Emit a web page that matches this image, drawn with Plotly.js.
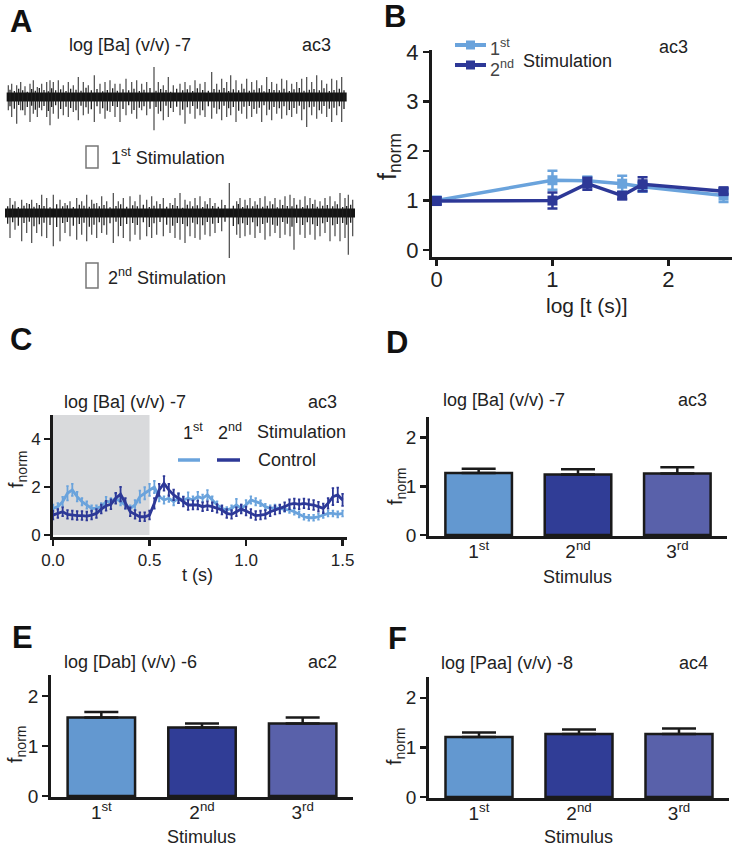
<!DOCTYPE html>
<html>
<head>
<meta charset="utf-8">
<script src="https://cdn.plot.ly/plotly-3.0.1.min.js"></script>
<style>html,body{margin:0;padding:0;background:#fff;}#chart{width:738px;height:848px;}</style>
</head>
<body>
<div id="chart"></div>
<script>
// ---------------- DATA ----------------
// Panel A: spike times (recording units) and amplitudes (arbitrary units)
const a1_time = [2.5,3.5,5.0,6.2,7.5,9.0,10.0,11.2,12.5,14.0,15.0,16.0,17.5,19.0,20.5,22.0,23.5,25.0,26.5,28.3,30.0,31.5,33.0,34.5,36.0,37.8,39.5,41.0,42.5,44.0,46.2,47.5,49.0,50.5,52.0,54.0,55.5,57.0,58.5,60.0,61.5,63.5,65.0,66.5,68.0,69.2,70.8,72.5,74.0,75.5,77.0,78.5,80.0,81.5,83.0,84.5,86.0,87.5,89.0,90.5,92.0,93.5,95.0,96.5,98.0,99.5,101.0,102.5];
const a1_up   = [35,40,35,45,32,40,50,30,40,45,50,45,50,35,45,35,60,45,35,65,40,45,50,40,40,55,45,50,40,45,90,45,35,60,35,40,45,35,50,40,45,75,40,55,45,65,50,40,55,45,50,35,60,45,40,55,50,40,45,55,60,45,65,50,40,55,50,60];
const a1_down = [40,60,80,40,55,75,50,60,40,60,85,50,65,55,60,45,70,55,50,75,50,65,45,60,75,55,50,65,40,55,100,50,70,60,45,55,80,50,65,55,60,65,50,70,60,55,75,50,65,60,50,75,55,70,50,65,55,60,50,70,90,55,65,50,60,75,55,75];
const a1_small_time = [3.0,4.3,5.6,6.8,8.2,9.5,10.6,11.8,13.2,14.5,15.5,16.7,18.2,19.8,21.2,22.8,24.3,25.8,27.4,29.1,30.8,32.2,33.8,35.2,36.9,38.6,40.2,41.8,43.2,45.0,46.8,48.2,49.8,51.2,53.0,54.8,56.2,57.8,59.2,60.8,62.5,64.2,65.8,67.2,68.6,70.0,71.6,73.2,74.8,76.2,77.8,79.2,80.8,82.2,83.8,85.2,86.8,88.2,89.8,91.2,92.8,94.2,95.8,97.2,98.8,100.2,101.8,103.2];
const a1_small_up   = [22,18,25,20,16,24,19,27,21,17,26,20,23,18,25,22,19,28,20,24,17,21,26,19,23,20,25,18,22,27,19,24,21,16,25,20,23,18,26,21,19,24,22,27,18,23,20,25,19,22,26,17,24,21,20,25,18,23,27,19,22,24,20,26,18,21,25,20];
const a1_small_down = [28,35,24,40,30,26,38,32,27,42,30,25,36,29,33,40,26,31,37,28,34,41,27,30,36,25,39,32,28,35,30,43,26,33,29,38,31,27,35,40,28,32,37,26,34,30,41,29,27,36,32,25,38,30,34,28,39,33,26,37,31,29,40,27,35,32,28,36];
const a1_span = [2.0,104.0];

const a2_time = [3.0,4.5,6.5,8.0,9.5,11.0,12.5,14.0,16.0,18.0,19.5,21.0,23.0,24.5,26.0,27.5,29.0,30.5,32.0,34.0,35.5,37.0,39.0,40.5,42.0,44.0,45.5,47.0,49.0,51.0,52.5,54.0,55.5,57.0,58.5,60.0,61.5,63.0,64.5,66.5,68.8,71.0,72.0,73.5,75.0,76.5,78.0,79.5,81.0,82.5,84.0,85.5,87.0,88.2,90.0,91.5,93.0,94.5,96.0,97.5,99.0,100.5,102.0,103.5,104.5,105.8];
const a2_up   = [45,35,40,30,40,30,55,45,55,40,30,35,45,35,55,40,30,50,35,60,35,45,50,35,55,40,50,35,45,30,45,60,40,35,45,50,35,45,30,40,90,35,45,40,45,35,45,50,35,45,40,50,55,45,40,50,45,40,35,45,50,35,60,45,55,40];
const a2_down = [75,50,85,60,90,60,70,75,100,85,60,70,80,65,85,65,75,60,65,90,70,75,85,65,80,70,75,65,70,60,75,80,90,70,75,80,65,70,60,55,135,65,75,70,65,75,60,80,70,60,75,65,70,110,65,75,65,80,70,60,85,70,85,75,125,70];
const a2_small_time = [2.3,3.8,5.5,7.2,8.8,10.2,11.8,13.2,15.0,17.0,18.8,20.2,22.0,23.8,25.2,26.8,28.2,29.8,31.2,33.0,34.8,36.2,38.0,39.8,41.2,43.0,44.8,46.2,48.0,50.0,51.8,53.2,54.8,56.2,57.8,59.2,60.8,62.2,63.8,65.5,67.5,70.0,71.5,72.8,74.2,75.8,77.2,78.8,80.2,81.8,83.2,84.8,86.2,87.6,89.0,90.8,92.2,93.8,95.2,96.8,98.2,99.8,101.2,102.8,104.0,105.2];
const a2_small_up   = [20,25,18,22,27,19,24,21,17,26,20,23,18,25,22,19,28,20,24,17,21,26,19,23,20,25,18,22,27,19,24,21,16,25,20,23,18,26,21,19,24,22,27,18,23,20,25,19,22,26,17,24,21,20,25,18,23,27,19,22,24,20,26,18,21,25];
const a2_small_down = [32,28,38,30,26,40,34,29,36,42,30,27,38,33,29,41,35,28,37,31,26,39,33,30,36,28,42,31,27,35,38,30,33,40,29,34,37,27,32,30,26,39,34,31,36,28,40,33,29,35,38,27,32,41,30,36,28,34,39,31,27,37,33,30,35,29];
const a2_span = [1.5,106.5];

// Panel B: log time vs normalised frequency
const b_logt   = [0, 1, 1.301, 1.602, 1.778, 2.477];
const b_first  = [1.00, 1.41, 1.40, 1.34, 1.28, 1.10];
const b_first_err  = [0.07, 0.19, 0.08, 0.16, 0.10, 0.13];
const b_second = [0.99, 1.00, 1.34, 1.10, 1.33, 1.19];
const b_second_err = [0.07, 0.16, 0.12, 0.07, 0.14, 0.06];

// Panel C: time course (s) vs normalised frequency
const c_time = [0,0.025,0.05,0.075,0.1,0.125,0.15,0.175,0.2,0.225,0.25,0.275,0.3,0.325,0.35,0.375,0.4,0.425,0.45,0.475,0.5,0.525,0.55,0.575,0.6,0.625,0.65,0.675,0.7,0.725,0.75,0.775,0.8,0.825,0.85,0.875,0.9,0.925,0.95,0.975,1.0,1.025,1.05,1.075,1.1,1.125,1.15,1.175,1.2,1.225,1.25,1.275,1.3,1.325,1.35,1.375,1.4,1.425,1.45,1.475,1.5];
const c_first  = [1.11,1.18,1.39,1.74,1.88,1.60,1.39,1.25,1.11,1.11,1.18,1.39,1.39,1.53,1.39,1.25,1.11,1.25,1.60,1.74,1.88,2.00,1.60,1.46,1.53,1.39,1.53,1.46,1.53,1.46,1.60,1.53,1.67,1.46,1.25,1.11,1.04,1.11,1.25,1.11,1.25,1.46,1.39,1.32,1.18,1.11,1.14,1.11,1.08,1.04,0.97,0.86,0.76,0.72,0.72,0.76,0.83,0.90,0.90,0.86,0.90];
const c_first_err = [0.15,0.15,0.2,0.3,0.25,0.2,0.15,0.15,0.12,0.12,0.15,0.2,0.15,0.2,0.15,0.15,0.12,0.2,0.25,0.25,0.25,0.25,0.2,0.15,0.15,0.15,0.2,0.15,0.25,0.15,0.2,0.15,0.2,0.15,0.15,0.12,0.12,0.12,0.25,0.15,0.2,0.15,0.15,0.12,0.12,0.12,0.12,0.12,0.12,0.12,0.12,0.12,0.12,0.12,0.12,0.12,0.12,0.12,0.12,0.12,0.12];
const c_second = [0.83,0.90,0.97,0.86,0.83,0.81,0.81,0.79,0.83,0.90,1.08,1.22,1.28,1.53,1.70,1.32,0.97,0.86,0.76,0.76,0.83,1.32,1.88,2.15,1.88,1.67,1.53,1.39,1.25,1.25,1.25,1.18,1.22,1.18,1.11,1.04,0.90,0.86,0.97,1.08,1.00,0.90,0.81,0.83,0.86,0.97,1.04,1.08,1.18,1.28,1.32,1.28,1.32,1.28,1.25,1.18,1.11,1.32,1.60,1.67,1.46];
const c_second_err = [0.18,0.18,0.18,0.18,0.18,0.18,0.18,0.18,0.18,0.18,0.18,0.2,0.2,0.22,0.3,0.22,0.18,0.18,0.18,0.18,0.18,0.22,0.25,0.3,0.25,0.22,0.2,0.2,0.2,0.18,0.18,0.18,0.18,0.18,0.18,0.18,0.18,0.18,0.18,0.18,0.18,0.18,0.18,0.18,0.18,0.18,0.18,0.18,0.18,0.2,0.2,0.2,0.2,0.2,0.2,0.2,0.2,0.22,0.35,0.3,0.25];

// Panels D, E, F: stimulus bars
const stim_labels = ['1<sup>st</sup>','2<sup>nd</sup>','3<sup>rd</sup>'];
const stim_pos = [0,1,2];
const d_vals = [1.27, 1.24, 1.26];
const d_err  = [0.09, 0.11, 0.13];
const e_vals = [1.57, 1.37, 1.45];
const e_err  = [0.11, 0.08, 0.12];
const f_vals = [1.21, 1.27, 1.27];
const f_err  = [0.09, 0.09, 0.11];

// ---------------- STYLE ----------------
const W = 738, H = 848;
const FONT = 'Liberation Sans, Arial, Helvetica, sans-serif';
const INK = '#1a1a1a';
const LIGHT = '#6aa3dc', DARK = '#2d3897';
const BAR_COLORS = ['#6398d0', '#303d96', '#5961aa'];
const fx = p => p / W;
const fy = p => 1 - p / H;

function spikeSegments(t, up, down, base) {
  const xs = [], ys = [];
  const n = Math.min(t.length, up.length, down.length);
  for (let i = 0; i < n; i++) {
    xs.push(t[i], t[i], null);
    ys.push(base + up[i], base - down[i], null);
  }
  return {xs, ys};
}

const traces = [];
// Panel A traces
const base1 = 609, base2 = 261;
[[a1_time, a1_up, a1_down, a1_small_time, a1_small_up, a1_small_down, a1_span, base1],
 [a2_time, a2_up, a2_down, a2_small_time, a2_small_up, a2_small_down, a2_span, base2]].forEach(([t, u, d, st, su, sd, span, b]) => {
  const s = spikeSegments(t, u, d, b);
  traces.push({x: s.xs, y: s.ys, xaxis: 'x', yaxis: 'y', mode: 'lines',
    line: {color: '#555555', width: 1.3}, connectgaps: false, showlegend: false, hoverinfo: 'skip'});
  traces.push({x: span, y: [b, b], xaxis: 'x', yaxis: 'y', mode: 'lines',
    line: {color: '#141414', width: 9}, showlegend: false, hoverinfo: 'skip'});
  const ss = spikeSegments(st, su, sd, b);
  traces.push({x: ss.xs, y: ss.ys, xaxis: 'x', yaxis: 'y', mode: 'lines',
    line: {color: '#1e1e1e', width: 1.3}, connectgaps: false, showlegend: false, hoverinfo: 'skip'});
});

// Panel B
traces.push({x: b_logt, y: b_first, xaxis: 'x2', yaxis: 'y2', mode: 'lines+markers', name: '1st', showlegend: false,
  line: {color: LIGHT, width: 3.5}, marker: {symbol: 'square', size: 10, color: LIGHT},
  error_y: {type: 'data', array: b_first_err, visible: true, color: LIGHT, thickness: 2.5, width: 5}});
traces.push({x: b_logt, y: b_second, xaxis: 'x2', yaxis: 'y2', mode: 'lines+markers', name: '2nd', showlegend: false,
  line: {color: DARK, width: 3.5}, marker: {symbol: 'square', size: 10, color: DARK},
  error_y: {type: 'data', array: b_second_err, visible: true, color: DARK, thickness: 2.5, width: 5}});

// Panel C
traces.push({x: c_time, y: c_first, xaxis: 'x3', yaxis: 'y3', mode: 'lines', showlegend: false,
  line: {color: LIGHT, width: 2.8},
  error_y: {type: 'data', array: c_first_err, visible: true, color: LIGHT, thickness: 1.8, width: 1.2}});
traces.push({x: c_time, y: c_second, xaxis: 'x3', yaxis: 'y3', mode: 'lines', showlegend: false,
  line: {color: DARK, width: 2.8},
  error_y: {type: 'data', array: c_second_err, visible: true, color: DARK, thickness: 1.8, width: 1.2}});

// Panels D, E, F
[[d_vals, d_err, 'x4', 'y4'], [e_vals, e_err, 'x5', 'y5'], [f_vals, f_err, 'x6', 'y6']].forEach(([v, e, xa, ya]) => {
  traces.push({type: 'bar', x: stim_pos, y: v, xaxis: xa, yaxis: ya, width: 0.67, showlegend: false,
    marker: {color: BAR_COLORS, line: {color: INK, width: 2.5}},
    error_y: {type: 'data', symmetric: false, array: e, arrayminus: e.map(() => 0), visible: true,
      color: INK, thickness: 2.5, width: 17}});
});

// ---------------- LAYOUT ----------------
const axisBase = {showline: true, linewidth: 2.8, linecolor: INK, ticks: 'outside', ticklen: 6, tickwidth: 2.5,
  tickcolor: INK, showgrid: false, zeroline: false, tickfont: {family: FONT, size: 19, color: '#222'}, fixedrange: true};
const hidden = {visible: false, fixedrange: true, showgrid: false, zeroline: false};
const f = (size) => ({family: FONT, size: size, color: '#222'});

const barX = (d0, d1) => Object.assign({}, axisBase, {domain: [fx(d0), fx(d1)], range: [-0.5, 2.5],
  tickvals: stim_pos, ticktext: stim_labels, ticks: '', ticklabelstandoff: -4, tickfont: f(19)});
const barY = (top, bot, anchor) => Object.assign({}, axisBase, {domain: [fy(bot), fy(top)], range: [-0.02, 2.42],
  tickvals: [0, 1, 2], anchor: anchor, tickfont: f(19)});

const layout = {
  width: W, height: H, margin: {l: 0, r: 0, t: 0, b: 0},
  paper_bgcolor: '#fff', plot_bgcolor: 'rgba(0,0,0,0)',
  font: {family: FONT, size: 18, color: '#222'},
  showlegend: false,
  xaxis: Object.assign({}, hidden, {domain: [0, fx(370)], range: [0, 111]}),
  yaxis: Object.assign({}, hidden, {domain: [fy(300), 1], range: [0, 900]}),
  xaxis2: Object.assign({}, axisBase, {domain: [fx(432), fx(732)], range: [-0.04, 2.55], tickvals: [0, 1, 2],
    anchor: 'y2', tickfont: f(22), linewidth: 3.2, ticklabelstandoff: -6}),
  yaxis2: Object.assign({}, axisBase, {domain: [fy(257), fy(50)], range: [-0.14, 4.04], tickvals: [0, 1, 2, 3, 4],
    anchor: 'x2', tickfont: f(22), linewidth: 3.2}),
  xaxis3: Object.assign({}, axisBase, {domain: [fx(53), fx(347)], range: [0, 1.523], tickvals: [0, 0.5, 1, 1.5],
    tickformat: '.1f', anchor: 'y3', tickfont: f(17)}),
  yaxis3: Object.assign({}, axisBase, {domain: [fy(537), fy(415)], range: [-0.083, 5.0], tickvals: [0, 2, 4],
    anchor: 'x3', tickfont: f(17)}),
  xaxis4: Object.assign(barX(429, 727), {anchor: 'y4'}),
  yaxis4: barY(417, 536, 'x4'),
  xaxis5: Object.assign(barX(51, 353), {anchor: 'y5'}),
  yaxis5: barY(675, 797, 'x5'),
  xaxis6: Object.assign(barX(429, 729), {anchor: 'y6'}),
  yaxis6: barY(677, 798, 'x6'),
  shapes: [
    // Panel A stimulus boxes
    {type: 'rect', xref: 'paper', yref: 'paper', x0: fx(86), x1: fx(98), y0: fy(168), y1: fy(146),
      line: {color: '#777', width: 1.5}, fillcolor: 'rgba(0,0,0,0)'},
    {type: 'rect', xref: 'paper', yref: 'paper', x0: fx(86), x1: fx(98), y0: fy(288), y1: fy(263),
      line: {color: '#777', width: 1.5}, fillcolor: 'rgba(0,0,0,0)'},
    // Panel B legend samples
    {type: 'line', xref: 'paper', yref: 'paper', x0: fx(455), x1: fx(486), y0: fy(45), y1: fy(45),
      line: {color: LIGHT, width: 4}},
    {type: 'rect', xref: 'paper', yref: 'paper', x0: fx(466), x1: fx(475), y0: fy(49.5), y1: fy(40.5),
      line: {width: 0}, fillcolor: LIGHT},
    {type: 'line', xref: 'paper', yref: 'paper', x0: fx(455), x1: fx(486), y0: fy(65), y1: fy(65),
      line: {color: DARK, width: 4}},
    {type: 'rect', xref: 'paper', yref: 'paper', x0: fx(466), x1: fx(475), y0: fy(69.5), y1: fy(60.5),
      line: {width: 0}, fillcolor: DARK},
    // Panel C stimulation window
    {type: 'rect', xref: 'x3', yref: 'y3', x0: 0, x1: 0.5, y0: 0, y1: 5.0, layer: 'below',
      line: {width: 0}, fillcolor: '#d9dadc'},
    // Panel C legend dashes
    {type: 'line', xref: 'paper', yref: 'paper', x0: fx(178), x1: fx(200), y0: fy(460), y1: fy(460),
      line: {color: LIGHT, width: 3.5}},
    {type: 'line', xref: 'paper', yref: 'paper', x0: fx(217), x1: fx(240), y0: fy(460), y1: fy(460),
      line: {color: DARK, width: 3.5}}
  ],
  annotations: []
};

function txt(text, x, y, opts) {
  layout.annotations.push(Object.assign({text: text, xref: 'paper', yref: 'paper', x: fx(x), y: fy(y),
    xanchor: 'left', yanchor: 'middle', showarrow: false, font: f(18)}, opts || {}));
}
const bold = {font: {family: FONT, size: 31, color: '#111', weight: 'bold'}};
const rot = {textangle: -90, xanchor: 'center', yanchor: 'middle', font: f(20)};

// panel letters
txt('<b>A</b>', 8, 22, bold);
txt('<b>B</b>', 382, 17, bold);
txt('<b>C</b>', 8, 339, bold);
txt('<b>D</b>', 384, 342, bold);
txt('<b>E</b>', 10, 637, bold);
txt('<b>F</b>', 386, 638, bold);

// panel A
txt('log [Ba] (v/v) -7', 67, 45);
txt('ac3', 300, 45);
txt('1<sup>st</sup> Stimulation', 109, 156);
txt('2<sup>nd</sup> Stimulation', 106, 276);

// panel B
txt('1<sup>st</sup>', 488, 47, {font: {family: FONT, size: 18, color: '#444'}});
txt('2<sup>nd</sup>', 488, 68, {font: {family: FONT, size: 18, color: '#444'}});
txt('ac3', 657, 47);
txt('Stimulation', 521, 61);
txt('log [t (s)]', 587, 305, {xanchor: 'center', font: f(21)});
txt('f<sub>norm</sub>', 389, 157, Object.assign({}, rot, {font: f(25)}));

// panel C
txt('log [Ba] (v/v) -7', 62, 402);
txt('ac3', 306, 402);
txt('1<sup>st</sup>', 181, 431);
txt('2<sup>nd</sup>', 216, 431);
txt('Stimulation', 255, 432);
txt('Control', 256, 460);
txt('t (s)', 197, 575, {xanchor: 'center'});
txt('f<sub>norm</sub>', 18, 470, rot);

// panel D
txt('log [Ba] (v/v) -7', 441, 400);
txt('ac3', 676, 400);
txt('f<sub>norm</sub>', 396, 487, rot);
txt('Stimulus', 577, 577, {xanchor: 'center'});

// panel E
txt('log [Dab] (v/v) -6', 62, 662);
txt('ac2', 306, 662);
txt('f<sub>norm</sub>', 16, 745, rot);
txt('Stimulus', 201, 837, {xanchor: 'center'});

// panel F
txt('log [Paa] (v/v) -8', 439, 663);
txt('ac4', 677, 663);
txt('f<sub>norm</sub>', 395, 747, rot);
txt('Stimulus', 578, 837, {xanchor: 'center'});

Plotly.newPlot('chart', traces, layout, {displayModeBar: false, staticPlot: true});
</script>
</body>
</html>
